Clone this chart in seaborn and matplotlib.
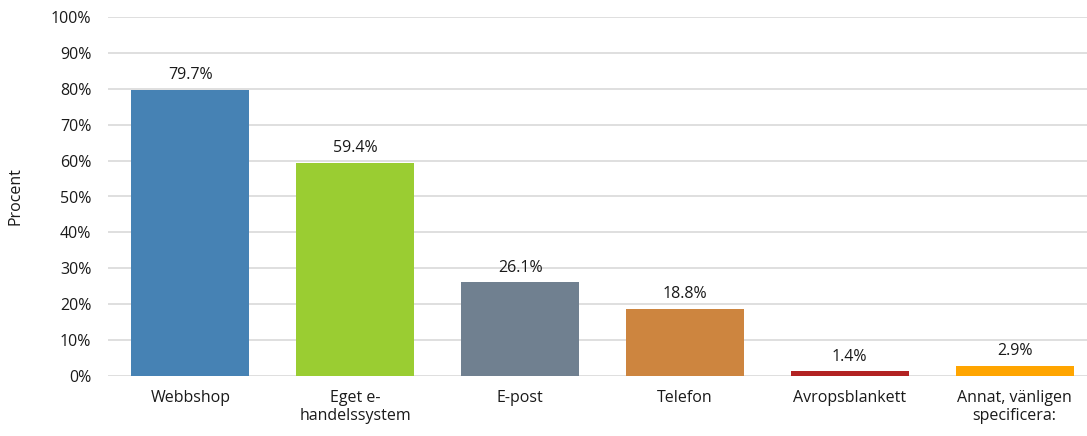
import pandas as pd
import matplotlib.pyplot as plt
import seaborn as sns

# Data
kategorier = ["Webbshop", "Eget e-\nhandelssystem", "E-post", "Telefon",
              "Avropsblankett", "Annat, vänligen\nspecificera:"]
procent = [79.7, 59.4, 26.1, 18.8, 1.4, 2.9]
farger = ["#4682B4", "#9ACD32", "#708090", "#CD853F", "#B22222", "#FFA500"]

df = pd.DataFrame({"kategori": kategorier, "procent": procent})

sns.set_style("white")
plt.rcParams['font.family'] = ['Open Sans', 'DejaVu Sans']

fig = plt.figure(figsize=(10.87, 4.36), dpi=100)
ax = fig.add_axes([108 / 1087, 1 - 376 / 436, 989 / 1087, 359 / 436])

sns.barplot(data=df, x="kategori", y="procent", hue="kategori", palette=farger,
            saturation=1, linewidth=0, width=0.716, legend=False, ax=ax, zorder=3)

for i, v in enumerate(procent):
    ax.text(i, v + 1.8, f"{v:.1f}%", ha="center", va="bottom", fontsize=11.5, color="#1a1a1a")

ax.set_ylim(0, 100)
ax.set_yticks(range(0, 101, 10))
ax.set_yticklabels([f"{t}%" for t in range(0, 101, 10)], fontsize=11.5, color="#1a1a1a")
ax.tick_params(axis="x", labelsize=11.5, colors="#1a1a1a", length=0, pad=10)
ax.tick_params(axis="y", length=0, pad=12)
ax.grid(axis="y", color="#D9D9D9", linewidth=1.2, zorder=0)
ax.set_xlabel("")
ax.set_ylabel("Procent", fontsize=11.5, color="#1a1a1a", labelpad=20)
for s in ax.spines.values():
    s.set_visible(False)

plt.savefig("out.png", dpi=100)
